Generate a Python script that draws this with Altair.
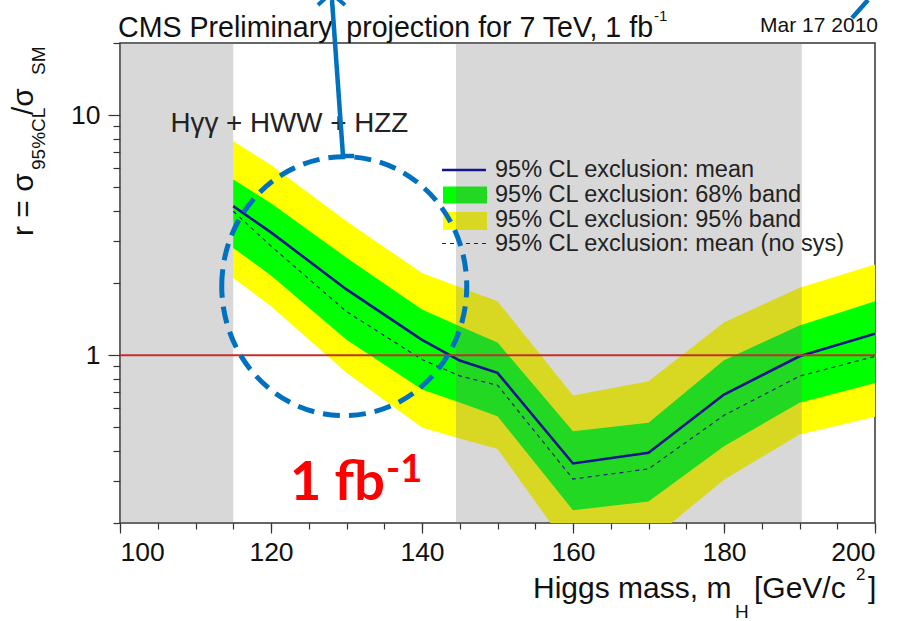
import altair as alt
import pandas as pd

# ---- data ----
mass   = [115, 120, 130, 140, 145, 150, 160, 170, 180, 190, 200]
mean   = [4.18, 3.25, 1.88, 1.16, 0.95, 0.845, 0.354, 0.392, 0.686, 0.99, 1.23]
nosys  = [3.98, 2.85, 1.52, 0.96, 0.82, 0.75, 0.305, 0.336, 0.562, 0.818, 0.99]
g_lo   = [2.80, 2.15, 1.16, 0.72, 0.635, 0.557, 0.226, 0.246, 0.418, 0.634, 0.767]
g_hi   = [5.40, 4.30, 2.55, 1.55, 1.32, 1.13, 0.482, 0.523, 0.953, 1.33, 1.68]
y_lo   = [2.10, 1.60, 0.845, 0.50, 0.45, 0.407, 0.148, 0.167, 0.303, 0.468, 0.554]
y_hi   = [7.79, 6.20, 3.62, 2.20, 1.92, 1.68, 0.68, 0.78, 1.37, 1.91, 2.39]

gray_lo = [100, 144.5]
gray_hi = [115, 190.3]

legend_labels = ["95% CL exclusion: mean", "95% CL exclusion: 68% band",
                 "95% CL exclusion: 95% band", "95% CL exclusion: mean (no sys)"]

x_minor = list(range(100, 201, 5))
x_major = [100, 120, 140, 160, 180, 200]
y_minor = [0.2, 0.3, 0.4, 0.5, 0.6, 0.7, 0.8, 0.9, 2, 3, 4, 5, 6, 7, 8, 9, 20]
y_major = [1, 10]

note_mass = [129.7]
note_r = [1.94]

FONT = "Liberation Sans"
W, H = 755, 480

df = pd.DataFrame({"mass": mass, "mean": mean, "nosys": nosys,
                   "g_lo": g_lo, "g_hi": g_hi, "y_lo": y_lo, "y_hi": y_hi})
gray_df = pd.DataFrame({"lo": gray_lo, "hi": gray_hi})

xs = alt.Scale(domain=[100, 200], nice=False, zero=False)
ys = alt.Scale(type="log", domain=[0.2, 20], nice=False)

base = alt.Chart(df)

yellow = base.mark_area(color="#ffff00", clip=True).encode(
    x=alt.X("mass:Q", scale=xs, axis=alt.Axis(values=x_minor, labels=False, tickSize=6,
            domain=False, grid=False, title=None, orient="bottom", tickColor="#333", tickWidth=1.2)),
    y=alt.Y("y_lo:Q", scale=ys, axis=alt.Axis(values=y_minor, labels=False, tickSize=7,
            domain=False, grid=False, title=None, orient="left", tickColor="#333", tickWidth=1.2)),
    y2="y_hi:Q",
)
green = base.mark_area(color="#00ff00", clip=True).encode(
    x=alt.X("mass:Q", scale=xs, axis=alt.Axis(values=x_major, tickSize=10, domain=False, grid=False,
            title=None, orient="bottom", tickColor="#333", tickWidth=1.2, labelFont=FONT,
            labelFontSize=26.5, labelColor="#111", labelPadding=6, format="d")),
    y=alt.Y("g_lo:Q", scale=ys, axis=alt.Axis(values=y_major, tickSize=12, domain=False, grid=False,
            title=None, orient="left", tickColor="#333", tickWidth=1.2, labelFont=FONT,
            labelFontSize=26.5, labelColor="#111", labelPadding=8, format="~g")),
    y2="g_hi:Q",
)

def one(label):
    return alt.Chart(pd.DataFrame({"t": [label]}))

# legend symbols (under the gray overlay)
leg_green = one(legend_labels[1]).mark_rect(color="#00ff00").encode(
    x=alt.value(323), x2=alt.value(367), y=alt.value(143.5), y2=alt.value(160.5))
leg_yellow = one(legend_labels[2]).mark_rect(color="#ffff00").encode(
    x=alt.value(323), x2=alt.value(367), y=alt.value(169), y2=alt.value(187))

gray = alt.Chart(gray_df).mark_rect(color="#777777", opacity=0.286).encode(
    x=alt.X("lo:Q", scale=xs, axis=None), x2="hi:Q", y=alt.value(0), y2=alt.value(H))

nosys_line = base.mark_line(color="#1e1e78", strokeWidth=1.2, strokeDash=[4, 4], clip=True).encode(
    x=alt.X("mass:Q", scale=xs, axis=None), y=alt.Y("nosys:Q", scale=ys, axis=None))
mean_line = base.mark_line(color="#14148c", strokeWidth=2.6, clip=True).encode(
    x=alt.X("mass:Q", scale=xs, axis=None), y=alt.Y("mean:Q", scale=ys, axis=None))

one_line = alt.Chart(pd.DataFrame({"r": [1]})).mark_rule(color="#c0302e", strokeWidth=2.2).encode(
    y=alt.Y("r:Q", scale=ys, axis=None))

leg_mean = one(legend_labels[0]).mark_rule(color="#14148c", strokeWidth=2.6).encode(
    x=alt.value(322), x2=alt.value(366), y=alt.value(127), y2=alt.value(127))
leg_nosys = one(legend_labels[3]).mark_rule(color="#1e1e78", strokeWidth=1.2, strokeDash=[4, 4]).encode(
    x=alt.value(322), x2=alt.value(366), y=alt.value(200.5), y2=alt.value(200.5))

leg_texts = []
for lab, yy in zip(legend_labels, [127, 152, 177, 201]):
    leg_texts.append(one(lab).mark_text(align="left", baseline="middle", font=FONT,
                                        fontSize=23.5, color="#222").encode(
        x=alt.value(375), y=alt.value(yy), text="t:N"))

def txt(s, x, y, size, align="left", baseline="alphabetic", color="#111", angle=0,
        weight="normal", font=FONT):
    props = dict(align=align, baseline=baseline, font=font, fontSize=size, color=color,
                 fontWeight=weight)
    if angle:
        props["angle"] = angle
    return one(s).mark_text(**props).encode(x=alt.value(x), y=alt.value(y), text="t:N")

texts = [
    txt("CMS Preliminary, projection for 7 TeV, 1 fb", -2, -6, 28.6),
    txt("-1", 534, -22, 15),
    txt("Mar 17 2010", 758, -11, 21, align="right"),
    txt("Hγγ + HWW + HZZ", 50.5, 88.5, 27.8, color="#222"),
    # x-axis title
    txt("Higgs mass, m", 413, 555, 30, color="#111"),
    txt("H", 615, 575, 19, color="#111"),
    txt("[GeV/c", 634, 555, 30, color="#111"),
    txt("2", 736, 537, 17, color="#111"),
    txt("]", 748, 555, 30, color="#111"),
    # y-axis title (rotated)
    txt("r = σ", -87, 193, 30, angle=270),
    txt("95%CL", -75, 127, 19, angle=270),
    txt("/σ", -87, 72, 30, angle=270),
    txt("SM", -75, 32, 19, angle=270),
    # slide annotation text
    txt("1 fb", 170, 457, 54, color="#ff0000", weight="bold", font="Lato"),
    txt("-1", 266, 439, 38, color="#ff0000", weight="bold", font="Lato"),
]

note_df = pd.DataFrame({"mass": note_mass, "r": note_r})
ellipse = "M-1,0A1,1.057,0,1,1,1,0A1,1.057,0,1,1,-1,0Z"
circle = alt.Chart(note_df).mark_point(shape=ellipse, size=245 * 245, filled=False, stroke="#0070c0",
                                       strokeWidth=5, strokeDash=[17, 9], opacity=1).encode(
    x=alt.X("mass:Q", scale=xs, axis=None), y=alt.Y("r:Q", scale=ys, axis=None))

ann_line = one("a").mark_rule(color="#0070c0", strokeWidth=4.5).encode(
    x=alt.value(223), y=alt.value(113), x2=alt.value(212), y2=alt.value(-43))
ann_foot = one("b").mark_rule(color="#0070c0", strokeWidth=4.5).encode(
    x=alt.value(221), y=alt.value(113), x2=alt.value(234), y2=alt.value(113))
ann_head_l = one("c").mark_rule(color="#0070c0", strokeWidth=4).encode(
    x=alt.value(211), y=alt.value(-50), x2=alt.value(198), y2=alt.value(-38))
ann_head_r = one("d").mark_rule(color="#0070c0", strokeWidth=4).encode(
    x=alt.value(211), y=alt.value(-50), x2=alt.value(225), y2=alt.value(-38))
ann_tr = one("e").mark_rule(color="#0070c0", strokeWidth=4.5).encode(
    x=alt.value(732), y=alt.value(-25), x2=alt.value(748), y2=alt.value(-43))

chart = alt.layer(
    yellow, green, leg_green, leg_yellow, gray, nosys_line, mean_line, one_line,
    leg_mean, leg_nosys, *leg_texts, *texts, circle, ann_line, ann_foot,
    ann_head_l, ann_head_r, ann_tr,
).resolve_axis(x="independent", y="independent").properties(
    width=W, height=H,
    autosize=alt.AutoSizeParams(type="none"),
    padding={"left": 120, "top": 43, "right": 24, "bottom": 98},
    background="white",
).configure_view(stroke="#333", strokeWidth=1.5)

chart.save("out.html", embed_options={"renderer": "svg", "actions": False})
